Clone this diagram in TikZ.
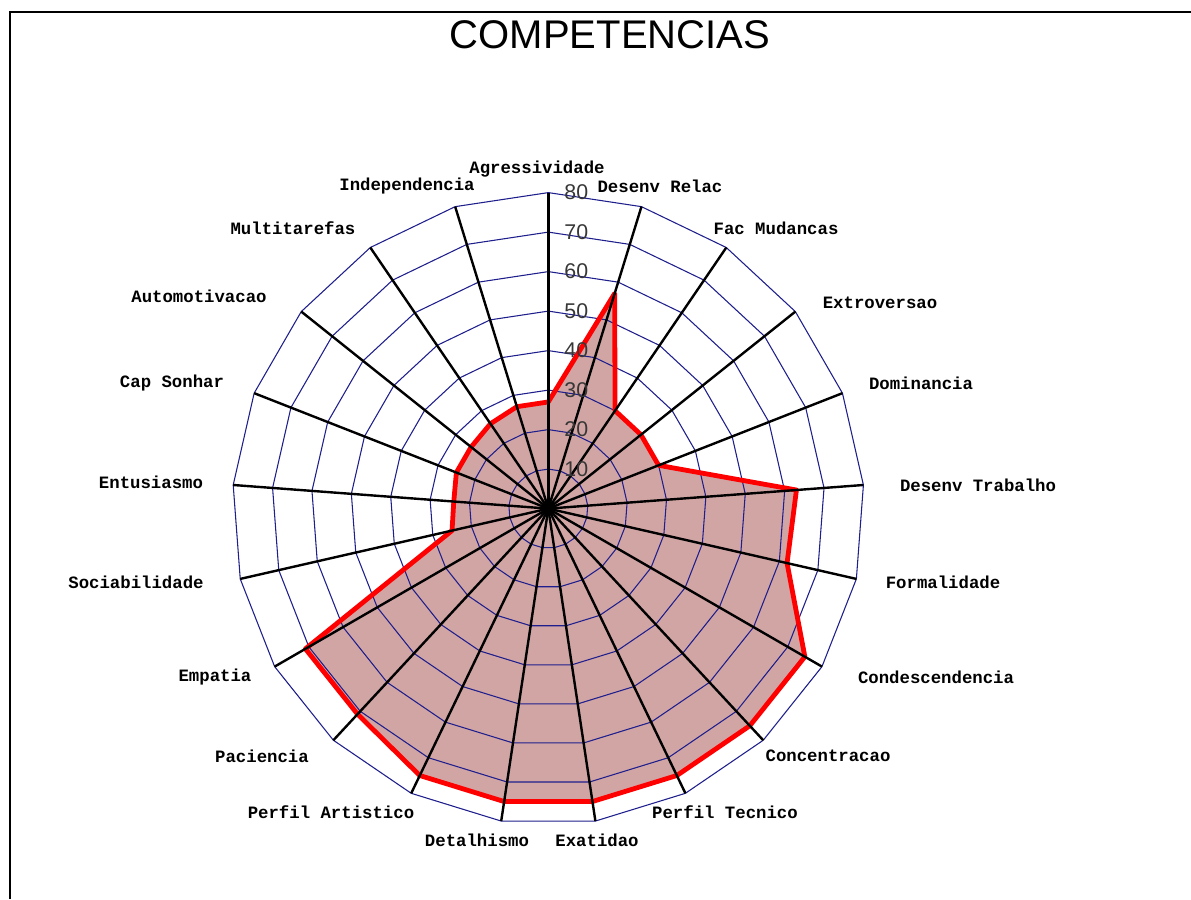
\documentclass[tikz,border=0pt]{standalone}
\usepackage{fontspec}
\setmainfont{Liberation Sans}
\newfontfamily\lblfont{Liberation Mono}
\usepackage{tikz}

\definecolor{ringblue}{RGB}{30,30,140}
\definecolor{areafill}{RGB}{210,165,165}
\definecolor{scalegray}{RGB}{55,55,55}

\tikzset{
	axislbl/.style={font=\lblfont\bfseries\fontsize{13}{13}\selectfont, inner sep=0pt},
	scalelbl/.style={font=\fontsize{16}{16}\selectfont, text=scalegray, inner sep=0pt},
	ring/.style={draw=ringblue, line width=0.8pt},
	spoke/.style={draw=black, line width=1.8pt},
	area/.style={fill=areafill},
	arealine/.style={draw=red, line width=3.6pt, line join=round}
}

\begin{document}
\begin{tikzpicture}[x=0.75pt, y=-0.75pt]
	\useasboundingbox (0,0) rectangle (1191,899);
	\draw[line width=1.5pt] (10,899) -- (10,12) -- (1191,12);

	\node (title) at (610, 35) {\fontsize{30}{30}\selectfont COMPETENCIAS};

	% radar, one unit = one point of the scale
	\begin{scope}[shift={(548.3,508.6)}, x=2.9625pt, y=2.9625pt]
	\path[area] (90:27) -- (72.857:57) -- (55.714:30) -- (38.571:30) -- (21.429:30)
		-- (4.286:63) -- (-12.857:62) -- (-30:75) -- (-47.143:75) -- (-64.286:75)
		-- (-81.429:75) -- (-98.571:75) -- (-115.714:75) -- (-132.857:71) -- (-150:71)
		-- (-167.143:25) -- (-184.286:24) -- (-201.429:25) -- (-218.571:25) -- (-235.714:26)
		-- (-252.857:27) -- cycle;
	\foreach \r in {10,20,...,80}
		\draw[ring] (90:\r) \foreach \k in {1,...,20} {-- ({90-\k*360/21}:\r)} -- cycle;
	\path[arealine] (90:27) -- (72.857:57) -- (55.714:30) -- (38.571:30) -- (21.429:30)
		-- (4.286:63) -- (-12.857:62) -- (-30:75) -- (-47.143:75) -- (-64.286:75)
		-- (-81.429:75) -- (-98.571:75) -- (-115.714:75) -- (-132.857:71) -- (-150:71)
		-- (-167.143:25) -- (-184.286:24) -- (-201.429:25) -- (-218.571:25) -- (-235.714:26)
		-- (-252.857:27) -- cycle;
	\foreach \k in {0,...,20}
		\draw[spoke] (0,0) -- ({90-\k*360/21}:80);
	\foreach \r in {10,20,...,80}
		\node[scalelbl] at (7.1,\r) {\r};
	\end{scope}

	\node[axislbl] (agr)  at (537, 169) {Agressividade};
	\node[axislbl] (drel) at (660, 186) {Desenv Relac};
	\node[axislbl] (fmud) at (776, 228) {Fac Mudancas};
	\node[axislbl] (extr) at (880, 303) {Extroversao};
	\node[axislbl] (domi) at (921, 383) {Dominancia};
	\node[axislbl] (dtra) at (978, 485) {Desenv Trabalho};
	\node[axislbl] (form) at (943, 582) {Formalidade};
	\node[axislbl] (cond) at (936, 677) {Condescendencia};
	\node[axislbl] (conc) at (828, 756) {Concentracao};
	\node[axislbl] (ptec) at (725, 812) {Perfil Tecnico};
	\node[axislbl] (exat) at (597, 840) {Exatidao};
	\node[axislbl] (deta) at (477, 840) {Detalhismo};
	\node[axislbl] (part) at (331, 812) {Perfil Artistico};
	\node[axislbl] (paci) at (262, 756) {Paciencia};
	\node[axislbl] (empa) at (215, 677) {Empatia};
	\node[axislbl] (soci) at (136, 582) {Sociabilidade};
	\node[axislbl] (entu) at (151, 482) {Entusiasmo};
	\node[axislbl] (cson) at (172, 383) {Cap Sonhar};
	\node[axislbl] (auto) at (199, 296) {Automotivacao};
	\node[axislbl] (mult) at (293, 228) {Multitarefas};
	\node[axislbl] (inde) at (407, 186) {Independencia};

\end{tikzpicture}
\end{document}
